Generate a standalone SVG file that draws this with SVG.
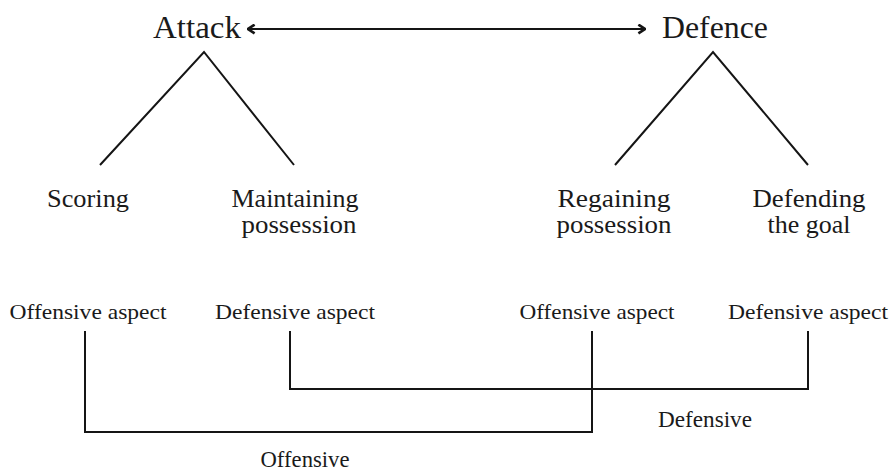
<svg xmlns="http://www.w3.org/2000/svg" width="891" height="471" viewBox="0 0 891 471">
<style>
text{font-family:"Liberation Serif","Times New Roman",serif;fill:#1a1a1a;text-anchor:middle}
.t{font-size:31px}
.m{font-size:24.5px}
.b{font-size:22px}
.c{font-size:23px}
.ln{stroke:#151515;stroke-width:2;fill:none}
</style>
<defs>
<marker id="ah" viewBox="0 0 10 10" refX="9" refY="5" markerWidth="11" markerHeight="11" markerUnits="userSpaceOnUse" orient="auto-start-reverse">
<path d="M3,1 L9,5 L3,9" fill="none" stroke="#151515" stroke-width="2.4"/>
</marker>
</defs>
<g id="attack"><text class="t" x="197" y="38" textLength="88" lengthAdjust="spacingAndGlyphs">Attack</text></g>
<g id="defence"><text class="t" x="715" y="38" textLength="106" lengthAdjust="spacingAndGlyphs">Defence</text></g>
<g id="scoring"><text class="m" x="88" y="207" textLength="82" lengthAdjust="spacingAndGlyphs">Scoring</text></g>
<g id="maintaining"><text class="m" x="295" y="207" textLength="127" lengthAdjust="spacingAndGlyphs">Maintaining</text><text class="m" x="299" y="233" textLength="115" lengthAdjust="spacingAndGlyphs">possession</text></g>
<g id="regaining"><text class="m" x="614" y="207" textLength="113" lengthAdjust="spacingAndGlyphs">Regaining</text><text class="m" x="614" y="233" textLength="115" lengthAdjust="spacingAndGlyphs">possession</text></g>
<g id="defending"><text class="m" x="809" y="207" textLength="113" lengthAdjust="spacingAndGlyphs">Defending</text><text class="m" x="809" y="233" textLength="83" lengthAdjust="spacingAndGlyphs">the goal</text></g>
<g id="off1"><text class="b" x="88" y="319" textLength="157" lengthAdjust="spacingAndGlyphs">Offensive aspect</text></g>
<g id="def1"><text class="b" x="295" y="319" textLength="160" lengthAdjust="spacingAndGlyphs">Defensive aspect</text></g>
<g id="off2"><text class="b" x="597" y="319" textLength="155" lengthAdjust="spacingAndGlyphs">Offensive aspect</text></g>
<g id="def2"><text class="b" x="808" y="319" textLength="160" lengthAdjust="spacingAndGlyphs">Defensive aspect</text></g>
<g id="defensive"><text class="c" x="705" y="427" textLength="94" lengthAdjust="spacingAndGlyphs">Defensive</text></g>
<g id="offensive"><text class="c" x="305" y="467" textLength="89" lengthAdjust="spacingAndGlyphs">Offensive</text></g>
<g id="connectors">
<line class="ln" x1="248" y1="29" x2="645" y2="29" marker-start="url(#ah)" marker-end="url(#ah)"/>
<polyline class="ln" points="100,165 204,52 294,165"/>
<polyline class="ln" points="615,165 713,52 808,165"/>
<polyline class="ln" points="85,331 85,432 592,432 592,331"/>
<polyline class="ln" points="290,331 290,389 808,389 808,331"/>
</g>
</svg>
